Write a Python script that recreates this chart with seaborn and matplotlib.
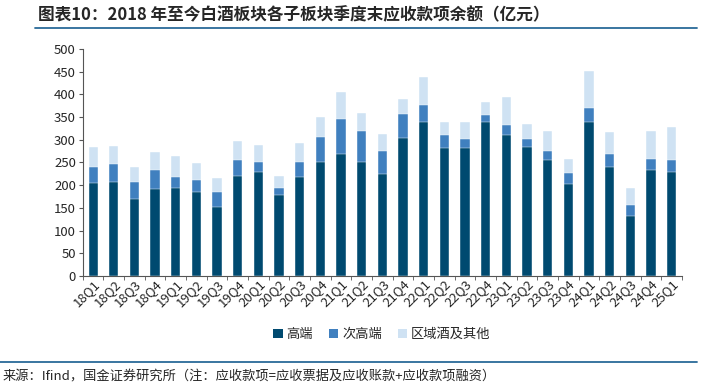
import numpy as np
import pandas as pd
import seaborn as sns
import matplotlib.pyplot as plt
from matplotlib.patches import Patch
from matplotlib.lines import Line2D

quarters = ['18Q1', '18Q2', '18Q3', '18Q4', '19Q1', '19Q2', '19Q3', '19Q4',
            '20Q1', '20Q2', '20Q3', '20Q4', '21Q1', '21Q2', '21Q3', '21Q4',
            '22Q1', '22Q2', '22Q3', '22Q4', '23Q1', '23Q2', '23Q3', '23Q4',
            '24Q1', '24Q2', '24Q3', '24Q4', '25Q1']

# 高端
gaoduan = [204, 207, 170, 191, 194, 184, 151, 221, 229, 178, 218, 252, 268, 250,
           224, 303, 338, 282, 282, 338, 311, 285, 255, 202, 338, 239, 133, 234, 229]
# 次高端
cigaoduan = [37, 40, 37, 43, 24, 28, 35, 34, 23, 16, 34, 54, 78, 70,
             52, 53, 39, 29, 19, 16, 21, 16, 21, 24, 32, 29, 24, 24, 26]
# 区域酒及其他
qita = [43, 40, 32, 40, 47, 37, 29, 43, 37, 27, 40, 45, 58, 39,
        37, 34, 60, 29, 39, 29, 62, 34, 43, 32, 82, 48, 37, 61, 74]

series_names = ['高端', '次高端', '区域酒及其他']
colors = ['#004a70', '#4080bf', '#cfe2f3']

df = pd.DataFrame({'quarter': quarters, 'g': gaoduan, 'c': cigaoduan, 'q': qita})
df['lvl1'] = df['g']
df['lvl2'] = df['g'] + df['c']
df['lvl3'] = df['lvl2'] + df['q']

sns.set_style('white')
plt.rcParams['font.family'] = ['Noto Sans CJK SC', 'DejaVu Sans']

fig = plt.figure(figsize=(7.14, 3.91), dpi=100)
ax = fig.add_axes([0.116, 0.294, 0.839, 0.581])

# 从上往下叠画
for col, c in zip(['lvl3', 'lvl2', 'lvl1'], colors[::-1]):
    sns.barplot(data=df, x='quarter', y=col, color=c, width=0.45,
                saturation=1, ax=ax, edgecolor='white', linewidth=0.3)

ax.set_ylim(0, 500)
ax.set_yticks(np.arange(0, 501, 50))
ax.set_xlim(-0.5, len(quarters) - 0.5)
ax.set_xlabel('')
ax.set_ylabel('')
for s in ['top', 'right']:
    ax.spines[s].set_visible(False)
ax.spines['left'].set_color('#555555')
ax.spines['bottom'].set_color('#555555')
ax.tick_params(axis='y', labelsize=9.5, length=3, color='#555555', left=True, pad=2)
ax.tick_params(axis='x', labelsize=9.5, length=0, pad=1)
ax.set_xticks(range(len(quarters)))
ax.set_xticklabels(quarters, rotation=45, ha='right', rotation_mode='anchor')
# 分类间刻度
ax.set_xticks(np.arange(-0.5, len(quarters), 1), minor=True)
ax.tick_params(axis='x', which='minor', length=3, color='#555555', bottom=True)

handles = [Patch(facecolor=c, edgecolor='none') for c in colors]
fig.legend(handles, series_names, loc='center', bbox_to_anchor=(0.535, 0.145), ncol=3,
           frameon=False, fontsize=9.5, handlelength=0.7, handleheight=0.7,
           handletextpad=0.3, columnspacing=1.2)

fig.text(0.053, 0.962, '图表10：2018 年至今白酒板块各子板块季度末应收款项余额（亿元）',
         fontsize=12, fontweight='bold', style='italic', va='center', ha='left')
fig.add_artist(Line2D([0.049, 0.976], [0.928, 0.928], color='#2a6a98', lw=1.3))
fig.add_artist(Line2D([0.0, 0.976], [0.074, 0.074], color='#2a6a98', lw=1.3))
fig.text(0.003, 0.037, '来源：Ifind，国金证券研究所（注：应收款项=应收票据及应收账款+应收款项融资）',
         fontsize=9.5, va='center', ha='left')

fig.savefig('out.png', dpi=100)
